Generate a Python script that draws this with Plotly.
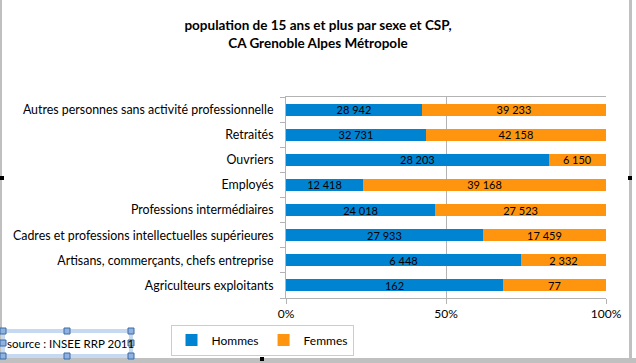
import plotly.graph_objects as go

categories = [
    "Agriculteurs exploitants",
    "Artisans, commerçants, chefs entreprise",
    "Cadres et professions intellectuelles supérieures",
    "Professions intermédiaires",
    "Employés",
    "Ouvriers",
    "Retraités",
    "Autres personnes sans activité professionnelle",
]
hommes = [162, 6448, 27933, 24018, 12418, 28203, 32731, 28942]
femmes = [77, 2332, 17459, 27523, 39168, 6150, 42158, 39233]
x_ticks = [0, 50, 100]
x_tick_labels = ["0%", "50%", "100%"]

def fmt(v):
    return f"{v:,}".replace(",", " ")

W, H = 636, 363
L, R, T, B = 286, 606, 97, 298

def px(x):
    return (x - L) / (R - L)

def py(y):
    return (B - y) / (B - T)

font = "Lato, Carlito, 'Liberation Sans', sans-serif"

fig = go.Figure()
fig.add_trace(go.Bar(
    y=categories, x=hommes, name="Hommes", orientation="h",
    marker=dict(color="#0084D1", line=dict(width=0)),
    text=[fmt(v) for v in hommes], textposition="inside", insidetextanchor="middle",
    textangle=0, constraintext="none",
    insidetextfont=dict(color="black", size=11, family=font),
))
fig.add_trace(go.Bar(
    y=categories, x=femmes, name="Femmes", orientation="h",
    marker=dict(color="#FF950E", line=dict(width=0)),
    text=[fmt(v) for v in femmes], textposition="inside", insidetextanchor="middle",
    textangle=0, constraintext="none",
    insidetextfont=dict(color="black", size=11, family=font),
))

shapes = []
# window border artifacts
shapes.append(dict(type="rect", xref="paper", yref="paper",
                   x0=px(0), x1=px(2), y0=py(358), y1=py(0),
                   fillcolor="#c0c0c0", line=dict(width=0), layer="above"))
shapes.append(dict(type="rect", xref="paper", yref="paper",
                   x0=px(629), x1=px(632), y0=py(358), y1=py(0),
                   fillcolor="#c0c0c0", line=dict(width=0), layer="above"))
shapes.append(dict(type="rect", xref="paper", yref="paper",
                   x0=px(0), x1=px(636), y0=py(363), y1=py(358),
                   fillcolor="#c0c0c0", line=dict(width=0), layer="above"))
shapes.append(dict(type="rect", xref="paper", yref="paper",
                   x0=px(260), x1=px(264), y0=py(361), y1=py(357),
                   fillcolor="black", line=dict(width=0), layer="above"))
shapes.append(dict(type="rect", xref="paper", yref="paper",
                   x0=px(0), x1=px(4), y0=py(180), y1=py(176),
                   fillcolor="black", line=dict(width=0), layer="above"))
shapes.append(dict(type="rect", xref="paper", yref="paper",
                   x0=px(628), x1=px(632), y0=py(180), y1=py(176),
                   fillcolor="black", line=dict(width=0), layer="above"))
# source text box selection frame
shapes.append(dict(type="rect", xref="paper", yref="paper",
                   x0=px(3), x1=px(131), y0=py(356), y1=py(331),
                   fillcolor="rgba(0,0,0,0)", line=dict(color="#c5d9f0", width=4), layer="above"))
for hx in [3, 67, 131]:
    for hy in [331, 356]:
        shapes.append(dict(type="rect", xref="paper", yref="paper",
                           x0=px(hx - 3), x1=px(hx + 3), y0=py(hy + 3), y1=py(hy - 3),
                           fillcolor="#8fb3dc", line=dict(color="#3a6aa8", width=1), layer="above"))
for hx in [3, 131]:
    shapes.append(dict(type="rect", xref="paper", yref="paper",
                       x0=px(hx - 3), x1=px(hx + 3), y0=py(346), y1=py(340),
                       fillcolor="#8fb3dc", line=dict(color="#3a6aa8", width=1), layer="above"))

fig.update_layout(
    width=W, height=H,
    margin=dict(l=L, r=W - R, t=T, b=H - B, pad=0, autoexpand=False),
    paper_bgcolor="white", plot_bgcolor="white",
    barmode="stack", barnorm="percent", bargap=0.52,
    font=dict(family=font, size=12, color="black"),
    title=dict(text="<b>population de 15 ans et plus par sexe et CSP,<br>CA Grenoble Alpes Métropole</b>",
               x=0.5, xanchor="center", y=1 - 30 / H, yanchor="top",
               font=dict(size=13.5, family=font, color="black")),
    xaxis=dict(range=[0, 100], tickvals=x_ticks, ticktext=x_tick_labels,
               showgrid=True, gridcolor="#b3b3b3", gridwidth=1,
               ticks="outside", ticklen=5, tickcolor="#b3b3b3",
               showline=True, linecolor="#b3b3b3", mirror=True, zeroline=False,
               tickfont=dict(size=12), fixedrange=True),
    yaxis=dict(categoryorder="array", categoryarray=categories,
               tickson="boundaries", ticks="outside", ticklen=5, tickcolor="#b3b3b3",
               showline=True, linecolor="#b3b3b3", showgrid=False,
               ticklabelstandoff=9, tickfont=dict(size=12.4)),
    legend=dict(orientation="h", x=px(262), xanchor="center", y=py(340), yanchor="middle",
                bordercolor="#cccccc", borderwidth=1, font=dict(size=12),
                itemsizing="constant", traceorder="normal", itemwidth=30),
    showlegend=True,
    shapes=shapes,
    annotations=[dict(text="source : INSEE RRP 2011", xref="paper", yref="paper",
                      x=px(5), y=py(343), xanchor="left", yanchor="middle",
                      showarrow=False, font=dict(size=11.5, family=font, color="black"))],
)

fig.write_html("out.html", config={"displayModeBar": False},
               post_script="document.body.style.margin='0';")
